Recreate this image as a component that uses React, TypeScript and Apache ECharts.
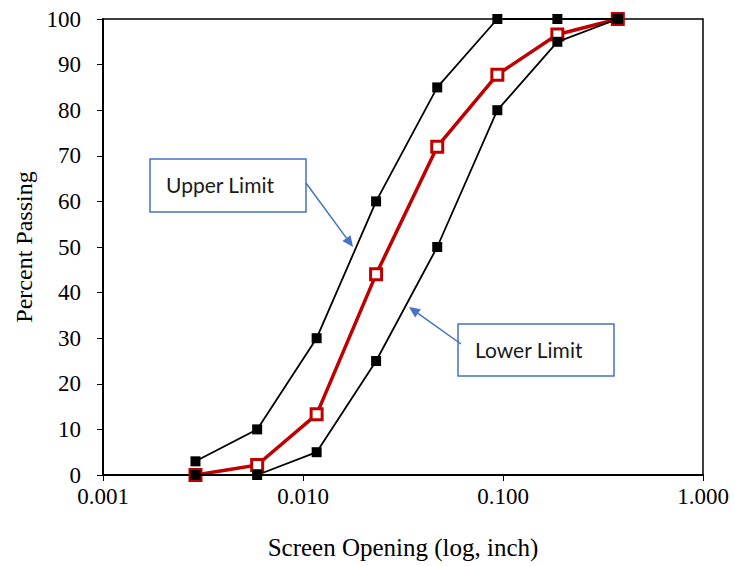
import React, { useEffect, useRef } from "react";
import * as echarts from "echarts";

const sieveOpenings = [0.0029, 0.0059, 0.0117, 0.0232, 0.0469, 0.0937, 0.187, 0.375];
const upperLimit = [3, 10, 30, 60, 85, 100, 100, 100];
const lowerLimit = [0, 0, 5, 25, 50, 80, 95, 100];
const gradation = [0, 2.2, 13.3, 44, 72, 87.8, 96.6, 100];

function arrow(x1: number, y1: number, x2: number, y2: number, color: string) {
  const dx = x2 - x1;
  const dy = y2 - y1;
  const len = Math.sqrt(dx * dx + dy * dy);
  const ux = dx / len;
  const uy = dy / len;
  const hl = 11;
  const hw = 5;
  const bx = x2 - ux * hl;
  const by = y2 - uy * hl;
  return [
    {
      type: "line",
      shape: { x1, y1, x2: bx, y2: by },
      style: { stroke: color, lineWidth: 1.5 },
      silent: true,
    },
    {
      type: "polygon",
      shape: {
        points: [
          [x2, y2],
          [bx - uy * hw, by + ux * hw],
          [bx + uy * hw, by - ux * hw],
        ],
      },
      style: { fill: color },
      silent: true,
    },
  ];
}

export default function App() {
  const ref = useRef<HTMLDivElement>(null);
  useEffect(() => {
    if (!ref.current) return;
    const chart = echarts.init(ref.current, null, { renderer: "svg" });
    const blue = "#4472C4";
    const pair = (ys: number[]) => sieveOpenings.map((x, i) => [x, ys[i]]);
    chart.setOption({
      animation: false,
      backgroundColor: "#fff",
      grid: {
        left: 103,
        right: 32,
        top: 19,
        bottom: 91,
        show: true,
        borderColor: "#000",
        borderWidth: 1.5,
        backgroundColor: "transparent",
      },
      xAxis: {
        type: "log",
        logBase: 10,
        min: 0.001,
        max: 1,
        name: "Screen Opening (log, inch)",
        nameLocation: "middle",
        nameGap: 60,
        nameTextStyle: { fontFamily: "Liberation Serif", fontSize: 25, color: "#000" },
        axisLine: { show: true, lineStyle: { color: "#000", width: 2 } },
        axisTick: { show: true, inside: false, length: 6, lineStyle: { color: "#000" } },
        minorTick: { show: false },
        splitLine: { show: false },
        axisLabel: {
          fontFamily: "Liberation Serif",
          fontSize: 23,
          color: "#000",
          margin: 10,
          formatter: (v: number) => v.toFixed(3),
        },
      },
      yAxis: {
        type: "value",
        min: 0,
        max: 100,
        interval: 10,
        name: "Percent Passing",
        nameLocation: "middle",
        nameGap: 66,
        nameTextStyle: { fontFamily: "Liberation Serif", fontSize: 24, color: "#000" },
        axisLine: { show: true, lineStyle: { color: "#000", width: 2 } },
        axisTick: { show: true, inside: false, length: 6, lineStyle: { color: "#000" } },
        splitLine: { show: false },
        axisLabel: {
          fontFamily: "Liberation Serif",
          fontSize: 23,
          color: "#000",
          margin: 22,
        },
      },
      series: [
        {
          name: "Gradation",
          type: "line",
          data: pair(gradation),
          symbol: "rect",
          symbolSize: 11,
          lineStyle: { color: "#C00000", width: 3.5 },
          itemStyle: { color: "#fff", borderColor: "#C00000", borderWidth: 3 },
          z: 2,
        },
        {
          name: "Upper Limit",
          type: "line",
          data: pair(upperLimit),
          symbol: "rect",
          symbolSize: 10,
          lineStyle: { color: "#000", width: 1.8 },
          itemStyle: { color: "#000" },
          z: 3,
        },
        {
          name: "Lower Limit",
          type: "line",
          data: pair(lowerLimit),
          symbol: "rect",
          symbolSize: 10,
          lineStyle: { color: "#000", width: 1.8 },
          itemStyle: { color: "#000" },
          z: 3,
        },
      ],
      graphic: [
        {
          type: "rect",
          shape: { x: 150, y: 159, width: 156, height: 53 },
          style: { fill: "#fff", stroke: blue, lineWidth: 1.5 },
          z: 10,
        },
        {
          type: "text",
          x: 166,
          y: 184,
          style: {
            text: "Upper Limit",
            fontFamily: "Lato",
            fontSize: 21,
            fill: "#1a1a1a",
            verticalAlign: "middle",
          },
          z: 11,
        },
        {
          type: "rect",
          shape: { x: 458, y: 324, width: 156, height: 52 },
          style: { fill: "#fff", stroke: blue, lineWidth: 1.5 },
          z: 10,
        },
        {
          type: "text",
          x: 475,
          y: 349,
          style: {
            text: "Lower Limit",
            fontFamily: "Lato",
            fontSize: 21,
            fill: "#1a1a1a",
            verticalAlign: "middle",
          },
          z: 11,
        },
        ...arrow(306, 183, 353, 247, blue).map((e) => ({ ...e, z: 12 })),
        ...arrow(461, 344, 409, 307, blue).map((e) => ({ ...e, z: 12 })),
      ],
    });
    return () => chart.dispose();
  }, []);
  return (
    <div
      ref={ref}
      style={{ position: "fixed", left: 0, top: 0, width: 735, height: 566 }}
    />
  );
}
